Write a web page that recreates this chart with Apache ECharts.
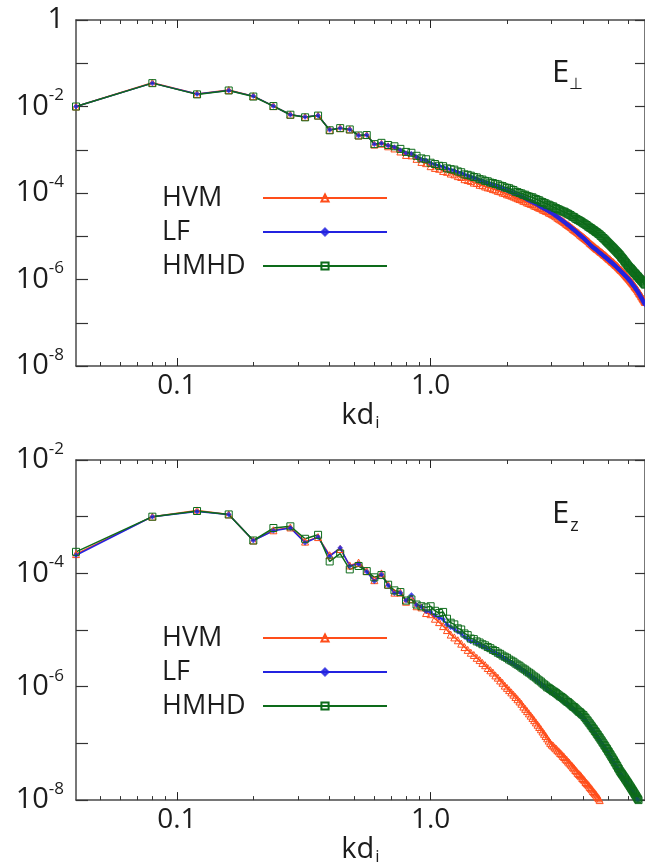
<!DOCTYPE html>
<html>
<head>
<meta charset="utf-8">
<script src="https://cdn.jsdelivr.net/npm/echarts@6/dist/echarts.min.js"></script>
<style>html,body{margin:0;padding:0;background:#fff}#c{width:645px;height:867px}</style>
</head>
<body>
<div id="c"></div>
<script>
// wavenumber k d_i of each spectral point
const K = [
0.04,0.08,0.12,0.16,0.20,0.24,0.28,0.32,0.36,0.40,0.44,0.48,0.52,0.56,0.60,0.64,0.68,0.72,0.76,0.80,0.84,0.88,0.92,0.96,1.00,
1.04,1.08,1.12,1.16,1.20,1.24,1.28,1.32,1.36,1.40,1.44,1.48,1.52,1.56,1.60,1.64,1.68,1.72,1.76,1.80,1.84,1.88,1.92,1.96,2.00,
2.04,2.08,2.12,2.16,2.20,2.24,2.28,2.32,2.36,2.40,2.44,2.48,2.52,2.56,2.60,2.64,2.68,2.72,2.76,2.80,2.84,2.88,2.92,2.96,3.00,
3.04,3.08,3.12,3.16,3.20,3.24,3.28,3.32,3.36,3.40,3.44,3.48,3.52,3.56,3.60,3.64,3.68,3.72,3.76,3.80,3.84,3.88,3.92,3.96,4.00,
4.04,4.08,4.12,4.16,4.20,4.24,4.28,4.32,4.36,4.40,4.44,4.48,4.52,4.56,4.60,4.64,4.68,4.72,4.76,4.80,4.84,4.88,4.92,4.96,5.00,
5.04,5.08,5.12,5.16,5.20,5.24,5.28,5.32,5.36,5.40,5.44,5.48,5.52,5.56,5.60,5.64,5.68,5.72,5.76,5.80,5.84,5.88,5.92,5.96,6.00,
6.04,6.08,6.12,6.16,6.20,6.24,6.28,6.32,6.36,6.40,6.44,6.48,6.52,6.56,6.60,6.64,6.68,6.72,6.76,6.80,6.84,6.88,6.92,6.96,7.00];

// log10 of spectral energy, top panel (E perpendicular)
const perpHVM = [
-2.00,-1.45,-1.71,-1.62,-1.76,-1.99,-2.19,-2.24,-2.21,-2.54,-2.50,-2.53,-2.67,-2.66,-2.88,-2.86,
-2.92,-2.97,-3.04,-3.12,-3.13,-3.21,-3.28,-3.31,-3.38,
-3.42,-3.44,-3.49,-3.51,-3.55,-3.57,-3.61,-3.63,-3.68,-3.70,
-3.72,-3.76,-3.77,-3.81,-3.82,-3.85,-3.87,-3.88,-3.91,-3.92,-3.95,-3.96,-3.99,-4.00,-4.03,
-4.04,-4.06,-4.08,-4.10,-4.12,-4.14,-4.15,-4.18,-4.19,-4.22,-4.23,-4.25,-4.26,-4.29,-4.30,
-4.32,-4.34,-4.35,-4.38,-4.39,-4.41,-4.42,-4.45,-4.46,-4.48,
-4.50,-4.52,-4.54,-4.57,-4.59,-4.61,-4.63,-4.65,-4.67,-4.70,-4.72,-4.74,
-4.76,-4.78,-4.80,-4.83,-4.85,-4.87,-4.89,-4.91,-4.93,-4.96,-4.98,-5.00,-5.02,
-5.04,-5.06,-5.08,-5.10,-5.12,-5.15,-5.17,-5.19,-5.21,-5.23,-5.25,-5.27,
-5.29,-5.30,-5.32,-5.34,-5.36,-5.37,-5.39,-5.41,-5.43,-5.44,-5.46,-5.48,-5.50,
-5.52,-5.53,-5.55,-5.57,-5.59,-5.60,-5.62,-5.64,-5.66,-5.67,-5.69,-5.71,
-5.73,-5.75,-5.77,-5.78,-5.80,-5.82,-5.84,-5.86,-5.88,-5.90,-5.92,-5.94,-5.96,
-5.98,-6.00,-6.02,-6.04,-6.06,-6.08,-6.10,-6.12,-6.15,-6.17,-6.19,-6.21,
-6.23,-6.26,-6.28,-6.31,-6.33,-6.35,-6.38,-6.40,-6.43,-6.45,-6.47,-6.50,-6.52];

const perpLF = [
-2.00,-1.46,-1.71,-1.63,-1.76,-1.99,-2.19,-2.24,-2.21,-2.54,-2.50,-2.53,-2.67,-2.66,-2.87,-2.85,
-2.90,-2.94,-3.01,-3.08,-3.09,-3.17,-3.23,-3.25,-3.31,
-3.34,-3.37,-3.40,-3.43,-3.46,-3.49,-3.52,-3.54,-3.57,-3.60,
-3.63,-3.65,-3.68,-3.71,-3.73,-3.76,-3.78,-3.80,-3.82,-3.84,-3.86,-3.88,-3.90,-3.92,-3.94,
-3.96,-3.98,-4.00,-4.02,-4.04,-4.06,-4.08,-4.10,-4.12,-4.15,-4.17,-4.19,-4.21,-4.23,-4.25,-4.27,-4.30,
-4.32,-4.34,-4.36,-4.38,-4.40,-4.42,-4.44,-4.46,
-4.48,-4.51,-4.53,-4.55,-4.58,-4.60,-4.62,-4.65,-4.67,-4.69,-4.72,-4.74,-4.76,-4.79,-4.81,
-4.83,-4.86,-4.88,-4.90,-4.93,-4.95,-4.97,-5.00,-5.02,-5.04,
-5.06,-5.09,-5.11,-5.14,-5.16,-5.19,-5.21,-5.24,
-5.25,-5.27,-5.29,-5.30,-5.32,-5.34,-5.36,-5.38,-5.40,-5.41,-5.43,-5.45,
-5.47,-5.48,-5.50,-5.52,-5.53,-5.55,-5.57,-5.59,-5.60,-5.62,
-5.64,-5.66,-5.67,-5.69,-5.71,-5.73,-5.75,-5.76,-5.78,-5.80,
-5.82,-5.84,-5.85,-5.87,-5.89,-5.91,-5.93,-5.94,-5.96,-5.98,-6.00,-6.02,
-6.04,-6.06,-6.08,-6.11,-6.13,-6.15,-6.17,-6.19,-6.22,-6.24,
-6.26,-6.29,-6.31,-6.34,-6.36,-6.39,-6.42,-6.44,-6.47,-6.50,-6.52,-6.55,-6.58];

const perpHMHD = [
-2.00,-1.46,-1.72,-1.63,-1.77,-1.99,-2.19,-2.25,-2.21,-2.55,-2.50,-2.53,-2.67,-2.66,-2.87,-2.84,
-2.89,-2.92,-2.98,-3.05,-3.07,-3.14,-3.20,-3.22,-3.30,
-3.33,-3.37,-3.38,-3.43,-3.45,-3.46,-3.50,-3.52,-3.57,-3.58,
-3.60,-3.63,-3.64,-3.68,-3.69,-3.72,-3.73,-3.76,-3.77,-3.79,-3.80,-3.83,-3.84,-3.87,-3.88,
-3.89,-3.92,-3.93,-3.97,-3.98,-4.00,-4.01,-4.04,-4.04,-4.07,-4.08,-4.10,
-4.10,-4.13,-4.14,-4.16,-4.17,-4.20,-4.21,-4.23,-4.24,-4.27,-4.27,
-4.29,-4.31,-4.31,-4.34,-4.35,-4.37,-4.38,-4.40,-4.41,-4.43,-4.43,-4.45,
-4.47,-4.48,-4.50,-4.51,-4.54,-4.55,-4.56,-4.59,-4.60,-4.62,-4.63,
-4.65,-4.66,-4.68,-4.70,-4.71,-4.73,-4.74,-4.77,-4.78,-4.80,-4.81,
-4.83,-4.85,-4.86,-4.88,-4.90,-4.91,-4.93,-4.95,
-4.96,-4.99,-5.00,-5.03,-5.04,-5.07,-5.08,-5.11,-5.13,-5.15,
-5.17,-5.19,-5.21,-5.23,-5.25,-5.27,-5.29,-5.31,-5.33,-5.35,-5.37,-5.39,-5.41,
-5.43,-5.45,-5.48,-5.50,-5.52,-5.54,-5.57,-5.59,-5.61,-5.63,-5.66,-5.68,
-5.70,-5.72,-5.74,-5.75,-5.77,-5.79,-5.81,-5.83,-5.85,-5.86,-5.88,-5.90,-5.92,-5.93,-5.95,-5.97,
-5.99,-6.00,-6.02,-6.04,-6.05,-6.07,-6.09,-6.10,-6.12];

// log10 of spectral energy, bottom panel (E z)
const zHVM = [
-3.66,-3.00,-2.89,-2.96,-3.42,-3.24,-3.19,-3.44,-3.36,-3.68,-3.57,-3.86,-3.81,-3.96,-4.12,-4.00,
-4.20,-4.34,-4.34,-4.50,-4.45,-4.58,-4.60,-4.70,-4.72,
-4.80,-4.86,-4.93,-5.00,-5.08,-5.13,-5.18,-5.24,-5.30,-5.35,-5.40,
-5.44,-5.49,-5.53,-5.58,-5.62,-5.67,-5.71,-5.75,-5.80,-5.84,-5.89,-5.93,-5.98,
-6.02,-6.06,-6.10,-6.14,-6.18,-6.22,-6.26,-6.30,-6.35,-6.39,-6.43,-6.47,
-6.51,-6.55,-6.59,-6.63,-6.67,-6.71,-6.75,-6.79,-6.83,-6.87,-6.91,-6.95,-6.99,
-7.02,-7.04,-7.07,-7.09,-7.12,-7.14,-7.17,-7.19,-7.22,-7.24,-7.27,-7.29,-7.32,-7.34,-7.37,-7.39,-7.42,-7.44,-7.47,-7.49,-7.52,-7.54,
-7.56,-7.58,-7.61,-7.63,-7.65,-7.68,-7.70,-7.72,-7.74,-7.77,-7.79,-7.81,-7.84,-7.86,-7.88,-7.90,-7.93,-7.95,-7.97,-8.00,-8.02,-8.05,-8.07,-8.10];

const zLF = [
-3.68,-3.00,-2.91,-2.96,-3.42,-3.25,-3.20,-3.46,-3.36,-3.70,-3.55,-3.87,-3.83,-3.97,-4.14,-4.02,
-4.21,-4.35,-4.34,-4.48,-4.38,-4.56,-4.59,-4.67,-4.68,
-4.74,-4.78,-4.81,-4.90,-4.95,-4.98,-5.03,-5.06,-5.12,-5.16,-5.20,
-5.20,-5.24,-5.26,-5.29,-5.31,-5.34,-5.36,-5.39,-5.41,-5.44,-5.46,-5.49,-5.51,-5.53,-5.56,-5.58,-5.60,-5.63,
-5.65,-5.67,-5.70,-5.72,-5.74,-5.77,-5.79,-5.81,-5.84,-5.86,-5.88,-5.91,-5.93,-5.95,-5.98,-6.00,-6.02,-6.05,
-6.07,-6.09,-6.11,-6.13,-6.14,-6.16,-6.18,-6.20,-6.22,-6.23,-6.25,-6.27,-6.29,-6.31,-6.32,-6.34,-6.36,-6.38,
-6.40,-6.41,-6.43,-6.45,-6.47,-6.49,-6.50,-6.52,-6.54,-6.55,-6.58,-6.60,-6.63,-6.65,-6.68,-6.70,-6.73,-6.75,
-6.78,-6.80,-6.83,-6.85,-6.88,-6.90,-6.93,-6.95,-6.98,-7.00,-7.03,-7.05,
-7.07,-7.09,-7.12,-7.14,-7.17,-7.19,-7.22,-7.24,-7.27,-7.29,-7.32,-7.34,-7.37,-7.39,-7.42,-7.44,-7.47,-7.49,-7.52,-7.54,
-7.56,-7.58,-7.60,-7.62,-7.64,-7.66,-7.68,-7.70,-7.72,-7.74,
-7.74,-7.76,-7.78,-7.80,-7.82,-7.84,-7.86,-7.88,-7.90,-7.92,-7.94,-7.96,-7.98,-8.00,-8.02,-8.05,-8.07,-8.10,-8.12,-8.15,-8.17,-8.20,-8.22,-8.25,-8.27];

const zHMHD = [
-3.62,-3.00,-2.90,-2.96,-3.42,-3.20,-3.17,-3.39,-3.32,-3.79,-3.65,-3.93,-3.87,-3.96,-4.07,-4.03,
-4.20,-4.30,-4.33,-4.48,-4.46,-4.55,-4.58,-4.60,-4.58,
-4.66,-4.70,-4.68,-4.80,-4.87,-4.90,-4.97,-4.99,-5.06,-5.09,-5.15,
-5.16,-5.20,-5.22,-5.25,-5.27,-5.30,-5.32,-5.35,-5.37,-5.40,-5.42,-5.45,-5.47,-5.49,-5.52,-5.54,-5.56,-5.59,
-5.61,-5.63,-5.66,-5.68,-5.70,-5.73,-5.75,-5.77,-5.80,-5.82,-5.84,-5.87,-5.89,-5.91,-5.94,-5.96,-5.98,-6.01,
-6.02,-6.04,-6.06,-6.08,-6.09,-6.11,-6.13,-6.15,-6.17,-6.18,-6.20,-6.22,-6.24,-6.26,-6.27,-6.29,-6.31,-6.33,
-6.35,-6.36,-6.38,-6.40,-6.42,-6.44,-6.45,-6.47,-6.49,-6.50,-6.53,-6.55,-6.58,-6.60,-6.63,-6.65,-6.68,-6.70,
-6.73,-6.75,-6.78,-6.80,-6.83,-6.85,-6.88,-6.90,-6.93,-6.95,-6.98,-7.00,
-7.03,-7.05,-7.08,-7.10,-7.13,-7.15,-7.18,-7.20,-7.23,-7.25,-7.28,-7.30,-7.33,-7.35,-7.38,-7.40,-7.43,-7.45,-7.48,-7.50,
-7.52,-7.54,-7.56,-7.58,-7.60,-7.62,-7.64,-7.66,-7.68,-7.70,
-7.72,-7.74,-7.76,-7.78,-7.80,-7.82,-7.84,-7.86,-7.88,-7.90,-7.92,-7.94,-7.96,-7.98,-8.00,-8.03,-8.05,-8.08,-8.10,-8.13,-8.15,-8.18,-8.20,-8.23,-8.25];

// tick values
const X_MAJOR = [0.1, 1];
const X_MINOR = [0.05,0.06,0.07,0.08,0.09,0.2,0.3,0.4,0.5,0.6,0.7,0.8,0.9,2,3,4,5,6,7];
const Y_TICKS_TOP = [1e-8,1e-7,1e-6,1e-5,1e-4,1e-3,1e-2,1e-1,1];
const Y_LABELS_TOP = [1e-8,1e-6,1e-4,1e-2,1];
const Y_TICKS_BOT = [1e-8,1e-7,1e-6,1e-5,1e-4,1e-3,1e-2];
const Y_LABELS_BOT = [1e-8,1e-6,1e-4,1e-2];
const SERIES_NAMES = ['HVM','LF','HMHD'];

const COLORS = {HVM:'#ff4d1a', LF:'#2323e0', HMHD:'#0d6b1a'};
const TXT = '#1c1c1c';
const FONT = 'Open Sans';

function pts(arr){ return arr.map((v,i)=>[K[i], Math.pow(10, v)]); }

const GRIDS = [
  {left:76, top:20, width:570, height:346, ymin:1e-8, ymax:1, ticks:Y_TICKS_TOP, labels:Y_LABELS_TOP},
  {left:76, top:460, width:570, height:345, ymin:1e-8, ymax:1e-2, ticks:Y_TICKS_BOT, labels:Y_LABELS_BOT}
];

const grid=[], xAxis=[], yAxis=[], series=[], legend=[];
const axisLineStyle = {color:'#4a4a4a', width:1.5};
GRIDS.forEach((g,gi)=>{
  grid.push({left:g.left, top:g.top, width:g.width, height:g.height, containLabel:false});
  const xBase = {gridIndex:gi, type:'log', logBase:10, min:0.04, max:7, splitLine:{show:false}};
  const xi = xAxis.length;
  xAxis.push(Object.assign({}, xBase, {
    position:'bottom',
    axisLine:{show:true, lineStyle:axisLineStyle},
    axisTick:{show:true, inside:true, length:8, customValues:X_MAJOR, lineStyle:{color:'#222', width:1}},
    axisLabel:{show:true, customValues:X_MAJOR, margin:6, color:TXT, fontFamily:FONT, fontSize:28,
      formatter:v=> (Math.abs(v-1)<1e-9 ? '1.0' : '0.1')},
    name:'kd{i|i}', nameLocation:'middle', nameGap:8,
    nameTextStyle:{color:TXT, fontFamily:FONT, fontSize:29, verticalAlign:'top',
      rich:{i:{fontFamily:FONT, fontSize:17, color:TXT, padding:[16,0,0,1]}}}
  }));
  xAxis.push(Object.assign({}, xBase, {
    position:'bottom', axisLine:{show:false},
    axisTick:{show:true, inside:true, length:4, customValues:X_MINOR, lineStyle:{color:'#333', width:1}},
    axisLabel:{show:false}
  }));
  xAxis.push(Object.assign({}, xBase, {
    position:'top', axisLine:{show:true, lineStyle:axisLineStyle},
    axisTick:{show:true, inside:true, length:8, customValues:X_MAJOR, lineStyle:{color:'#222', width:1}},
    axisLabel:{show:false}
  }));
  xAxis.push(Object.assign({}, xBase, {
    position:'top', axisLine:{show:false},
    axisTick:{show:true, inside:true, length:4, customValues:X_MINOR, lineStyle:{color:'#333', width:1}},
    axisLabel:{show:false}
  }));
  const yi = yAxis.length;
  yAxis.push({gridIndex:gi, type:'log', logBase:10, min:g.ymin, max:g.ymax, position:'left',
    splitLine:{show:false},
    axisLine:{show:true, lineStyle:axisLineStyle},
    axisTick:{show:true, inside:true, length:12, customValues:g.ticks, lineStyle:{color:'#333', width:1.2}},
    axisLabel:{show:true, customValues:g.labels, margin:12, color:TXT,
      formatter:v=>{ const e=Math.round(Math.log10(v)); return e===0 ? '{b|1}' : '{b|10}{s|'+e+'}'; },
      rich:{b:{fontFamily:FONT, fontSize:29, color:TXT, lineHeight:32},
            s:{fontFamily:FONT, fontSize:17, color:TXT, padding:[0,0,22,0]}}}
  });
  yAxis.push({gridIndex:gi, type:'log', logBase:10, min:g.ymin, max:g.ymax, position:'right',
    splitLine:{show:false},
    axisLine:{show:true, lineStyle:axisLineStyle},
    axisTick:{show:true, inside:true, length:10, customValues:g.ticks, lineStyle:{color:'#333', width:1.2}},
    axisLabel:{show:false}
  });
  const src = gi===0 ? {HVM:perpHVM, LF:perpLF, HMHD:perpHMHD} : {HVM:zHVM, LF:zLF, HMHD:zHMHD};
  const sym = {HVM:'triangle', LF:'diamond', HMHD:'rect'};
  const size = {HVM:7, LF:5, HMHD:7};
  SERIES_NAMES.forEach(n=>{
    const hollow = n!=='LF';
    series.push({
      name:n, type:'line', xAxisIndex:xi, yAxisIndex:yi, data:pts(src[n]),
      symbol:sym[n], symbolSize:size[n], showSymbol:true, showAllSymbol:true, clip:true,
      lineStyle:{color:COLORS[n], width:1.5},
      itemStyle: hollow ? {color:'rgba(255,255,255,0)', borderColor:COLORS[n], borderWidth:1}
                        : {color:COLORS[n], borderColor:COLORS[n], borderWidth:0.5, opacity:0.8},
      emphasis:{disabled:true}, z: 2
    });
  });
  legend.push({
    data:SERIES_NAMES, orient:'vertical', align:'right', left:157, top:g.top+158,
    itemWidth:124, itemHeight:9, itemGap:4, selectedMode:false,
    formatter:name=>'{a|'+name+'}',
    textStyle:{color:TXT, fontFamily:FONT, fontSize:27, lineHeight:30,
      rich:{a:{width:96, align:'left', fontFamily:FONT, fontSize:27, color:TXT, lineHeight:30}}}
  });
});

const chart = echarts.init(document.getElementById('c'), null, {renderer:'canvas'});
chart.setOption({
  backgroundColor:'#ffffff', animation:false,
  grid, xAxis, yAxis, series, legend,
  graphic:[
    {type:'text', left:552, top:58, z:10, style:{text:'{e|E}{s|⊥}', rich:{
      e:{fontFamily:FONT, fontSize:31, fill:TXT}, s:{fontFamily:FONT, fontSize:16, fill:TXT, padding:[22,0,0,0]}}}},
    {type:'text', left:552, top:499, z:10, style:{text:'{e|E}{s|z}', rich:{
      e:{fontFamily:FONT, fontSize:31, fill:TXT}, s:{fontFamily:FONT, fontSize:18, fill:TXT, padding:[22,0,0,1]}}}}
  ]
});
</script>
</body>
</html>
